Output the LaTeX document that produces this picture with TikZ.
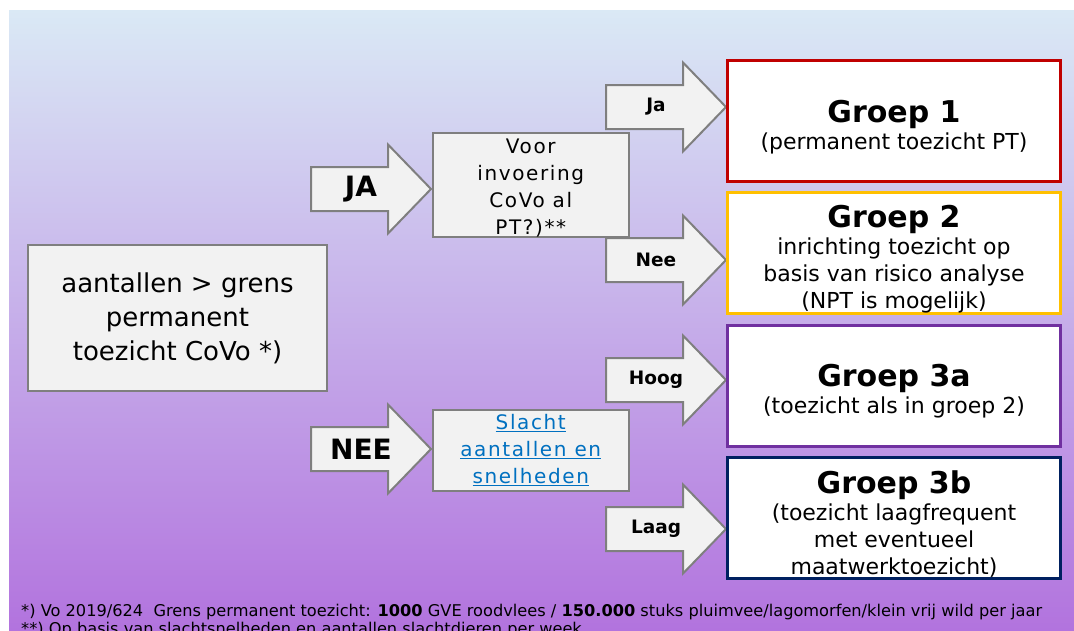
\documentclass[tikz,border=0pt]{standalone}
\usepackage{fontspec}
\setmainfont{DejaVu Sans}
\newfontfamily\spatiefont[LetterSpace=8]{DejaVu Sans}
\usetikzlibrary{positioning}

\definecolor{bgboven}{HTML}{DAE9F5}
\definecolor{bgmidden}{HTML}{C9B8EB}
\definecolor{bgonder}{HTML}{B273DE}
\definecolor{vakgrijs}{HTML}{F2F2F2}
\definecolor{randgrijs}{HTML}{7F7F7F}
\definecolor{rood}{HTML}{C00000}
\definecolor{goud}{HTML}{FFC000}
\definecolor{paars}{HTML}{7030A0}
\definecolor{donkerblauw}{HTML}{002060}
\definecolor{linkblauw}{HTML}{0070C0}

\tikzset{
  vraag/.style={draw=randgrijs, fill=vakgrijs, line width=2pt, align=center, inner sep=0pt},
  groep/.style={draw=#1, fill=white, line width=3pt, inner sep=0pt,
    minimum width=333pt, minimum height=121pt},
  groeptekst/.style={align=center, inner sep=0pt, font=\fontsize{22}{27}\selectfont},
  pijl/.style={draw=randgrijs, fill=vakgrijs, line width=2pt},
  pijltekst/.style={font=\bfseries\fontsize{18.5}{20}\selectfont, inner sep=0pt},
  voetnoot/.style={anchor=base west, inner sep=0pt, font=\fontsize{16.2}{19}\selectfont},
}

\newcommand\groepkop[1]{{\fontsize{30}{30}\bfseries\selectfont #1}}

% block arrow: name, x, y of the shaft's left end, text
\newcommand\blokpijl[4]{%
  \coordinate (#1-start) at (#2,#3);
  \draw[pijl] (#1-start) ++(0,-22) -- ++(77,0) -- ++(0,-22.5) -- ++(43,44.5)
    -- ++(-43,44.5) -- ++(0,-22.5) -- ++(-77,0) -- cycle;
  \node[pijltekst] (#1) at ([xshift=50pt]#1-start) {#4};
}

\begin{document}
\begin{tikzpicture}[x=1pt,y=-1pt]
  \useasboundingbox (0,0) rectangle (1074,630);
  \clip (0,0) rectangle (1074,630);

  % background
  \fill[white] (0,0) rectangle (1074,630);
  \shade[top color=bgboven, middle color=bgmidden, bottom color=bgonder] (9,10) rectangle (1074,630);

  % start question
  \node[vraag, minimum width=299pt, minimum height=146pt,
    font=\fontsize{26}{34}\selectfont] (start) at (177.5,318)
    {aantallen > grens\\permanent\\toezicht CoVo *)};

  % JA / NEE
  \blokpijl{ja}{311}{189}{\fontsize{28}{28}\selectfont JA}
  \blokpijl{nee}{311}{449}{\fontsize{28}{28}\selectfont NEE}

  \node[vraag, minimum width=196.5pt, minimum height=102pt,
    font=\spatiefont\fontsize{20}{27}\selectfont] (voor) at (530.75,185)
    {\rule{0pt}{20pt}Voor\\invoering\\CoVo al\\PT?)**};
  \node[vraag, minimum width=196.5pt, minimum height=81pt, text=linkblauw,
    font=\spatiefont\fontsize{20}{27}\selectfont] (slacht) at (530.75,450.5)
    {\underline{Slacht}\\\underline{aantallen en}\\\underline{snelheden}};

  % second level arrows
  \blokpijl{ja2}{606}{107}{Ja}
  \blokpijl{nee2}{606}{260}{Nee}
  \blokpijl{hoog}{606}{380}{Hoog}
  \blokpijl{laag}{606}{529}{Laag}

  % groups
  \node[groep=rood] (g1) at (894,121) {};
  \node[groep=goud] (g2) at (894,253) {};
  \node[groep=paars] (g3a) at (894,385.5) {};
  \node[groep=donkerblauw] (g3b) at (894,518) {};

  \node[groeptekst] (g1tekst) at ([yshift=-6pt]g1.center)
    {\groepkop{Groep 1}\\(permanent toezicht PT)};
  \node[groeptekst] (g2tekst) at ([yshift=-6pt]g2.center)
    {\groepkop{Groep 2}\\inrichting toezicht op\\basis van risico analyse\\(NPT is mogelijk)};
  \node[groeptekst] (g3atekst) at ([yshift=-6pt]g3a.center)
    {\groepkop{Groep 3a}\\(toezicht als in groep 2)};
  \node[groeptekst] (g3btekst) at ([yshift=-6pt]g3b.center)
    {\groepkop{Groep 3b}\\(toezicht laagfrequent\\met eventueel\\maatwerktoezicht)};

  % footnotes
  \node[voetnoot] (noot1) at (21,616)
    {*) Vo 2019/624\ \ Grens permanent toezicht: \textbf{1000} GVE roodvlees / \textbf{150.000} stuks pluimvee/lagomorfen/klein vrij wild per jaar};
  \node[voetnoot] (noot2) at ([yshift=-18pt]noot1.base west)
    {**) Op basis van slachtsnelheden en aantallen slachtdieren per week};
\end{tikzpicture}
\end{document}
